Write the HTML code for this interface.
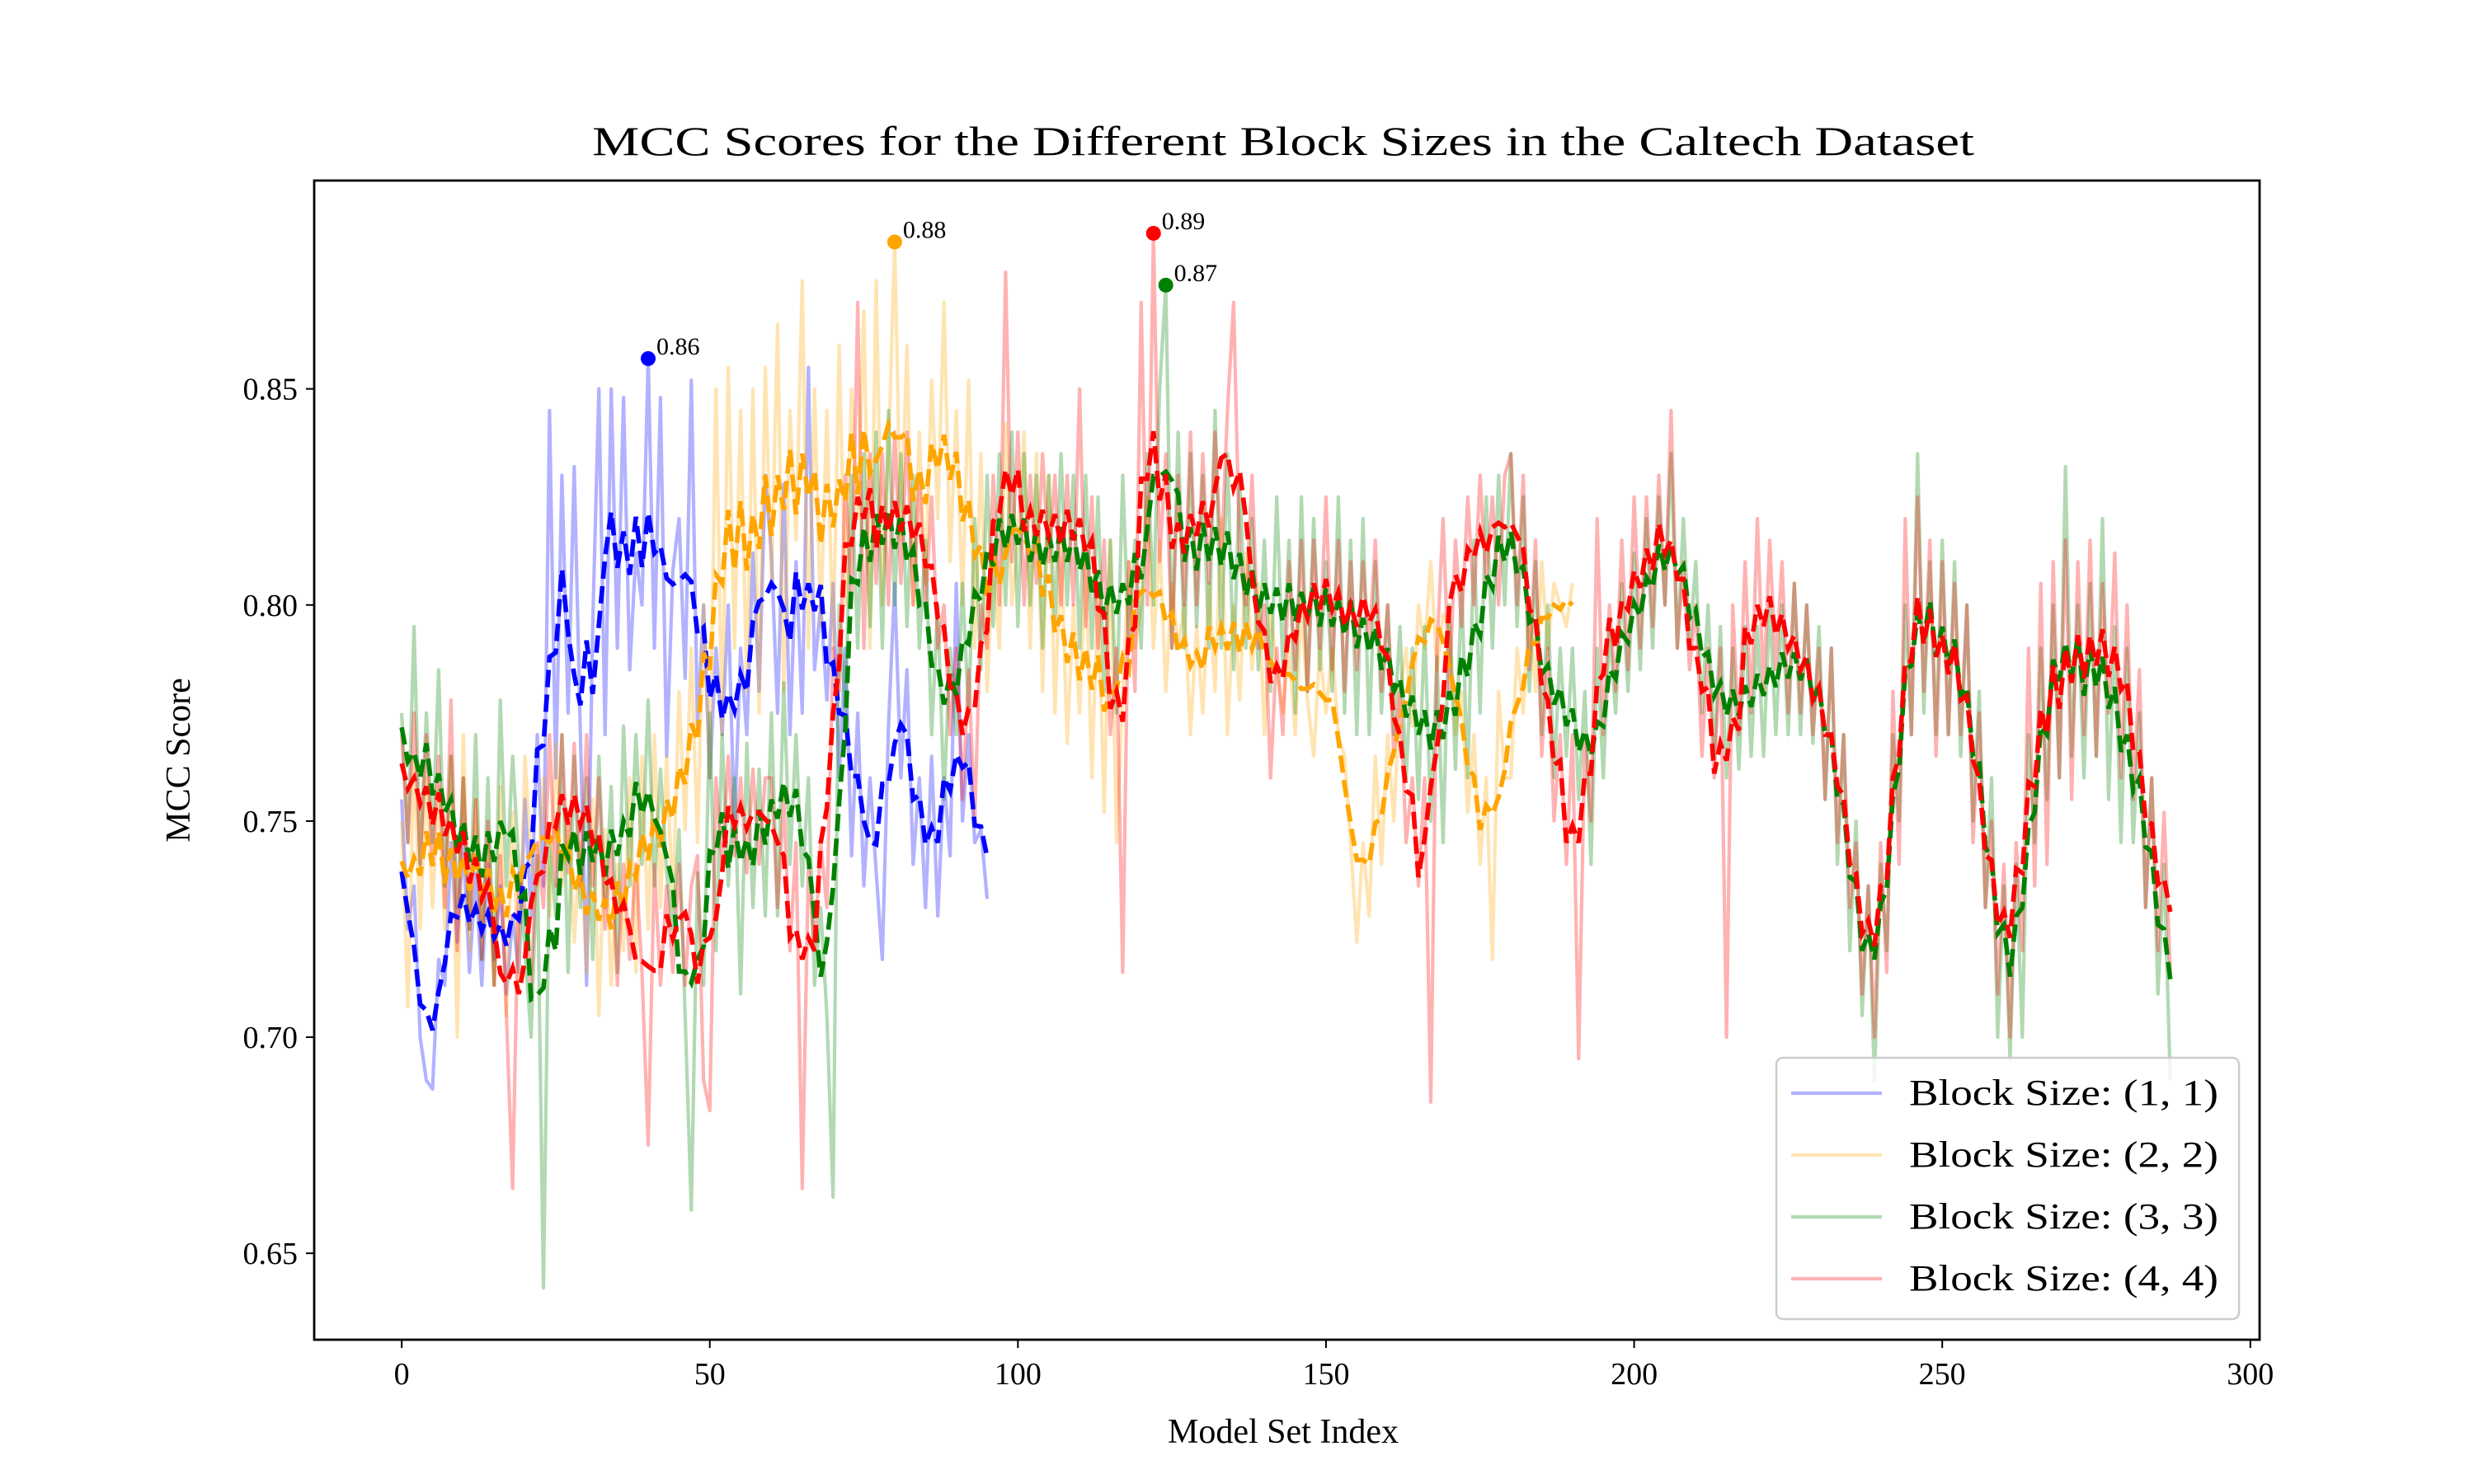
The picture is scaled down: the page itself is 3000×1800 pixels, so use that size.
<!DOCTYPE html>
<html><head><meta charset="utf-8">
<style>
html,body{margin:0;padding:0;background:#fff;}
svg{display:block;font-family:"Liberation Serif","DejaVu Serif",serif;}
</style></head>
<body>
<svg id="chart" width="3000" height="1800" viewBox="0 0 3000 1800" xmlns="http://www.w3.org/2000/svg">
<rect x="0" y="0" width="3000" height="1800" fill="#fff"/>
<text x="1556" y="188" font-size="50" text-anchor="middle" textLength="1676" lengthAdjust="spacingAndGlyphs">MCC Scores for the Different Block Sizes in the Caltech Dataset</text>
<g id="plot"></g>
<text x="1556" y="1750" font-size="42" text-anchor="middle">Model Set Index</text>
<text x="0" y="0" font-size="42" text-anchor="middle" transform="translate(230,922) rotate(-90)">MCC Score</text>
</svg>
<script>
const blue = [755,725,735,700,690,688,718,712,745,722,745,715,738,712,740,718,735,710,728,715,755,728,770,735,845,760,830,775,832,770,712,795,850,770,850,790,848,785,812,800,857,790,848,765,808,820,783,852,772,800,760,790,770,800,748,790,770,812,780,830,812,775,828,770,810,775,855,785,800,778,805,760,790,742,775,735,760,738,718,772,805,760,785,740,760,730,765,728,760,742,805,750,770,745,748,732];
const orange = [750,707,765,725,760,730,758,725,765,700,770,720,755,725,745,712,758,705,752,712,765,740,735,760,728,768,735,752,722,745,715,755,705,748,712,740,720,760,715,765,725,770,730,765,730,780,748,790,745,800,760,850,770,855,790,845,780,850,775,855,805,865,780,845,815,875,790,850,795,845,790,860,800,850,820,868,790,875,800,835,884,815,860,800,840,805,852,820,870,810,845,800,852,790,835,780,812,790,842,800,815,840,790,835,780,830,775,815,768,800,775,810,760,805,752,815,745,780,810,790,800,825,790,815,780,805,790,800,770,795,775,805,780,820,770,800,778,812,785,805,770,800,785,775,790,770,800,778,765,790,775,790,770,765,745,722,745,728,765,740,770,750,780,790,772,800,790,810,785,798,795,770,780,752,770,740,760,718,780,760,760,790,775,800,780,810,790,805,800,795,805];
const green = [775,745,795,740,775,745,785,735,765,730,760,725,770,718,760,712,778,735,765,740,720,700,742,642,745,728,770,715,765,730,760,718,765,730,758,715,772,735,770,740,778,735,762,738,725,748,705,660,738,712,775,720,770,735,760,710,768,730,762,728,775,728,782,740,770,735,760,712,730,705,663,800,775,830,790,835,795,840,790,845,800,835,795,830,790,815,770,800,755,790,770,805,775,820,785,830,795,835,800,840,795,835,800,830,790,830,795,835,800,830,790,830,790,825,780,815,775,830,790,815,790,835,800,850,874,790,840,790,835,795,830,790,845,790,835,785,830,790,820,785,815,780,825,785,815,775,825,780,820,785,810,780,825,775,815,770,820,770,810,775,800,770,795,760,790,755,795,750,788,745,800,762,805,760,815,775,825,790,830,800,835,795,825,780,810,770,800,760,790,765,790,755,780,740,790,760,795,775,805,780,812,785,820,790,825,800,835,790,820,790,810,775,800,765,795,760,790,762,795,765,795,765,800,770,800,770,805,770,800,768,795,755,790,740,770,720,750,705,735,690,740,720,770,750,800,770,835,775,810,770,815,770,810,765,800,750,780,730,760,700,735,695,740,700,770,745,790,755,800,760,832,765,800,760,805,765,820,755,795,745,790,745,775,730,760,710,740,690];
const red = [770,745,775,740,770,740,765,730,778,720,760,725,755,718,750,712,742,705,665,738,730,712,745,730,770,735,770,738,768,735,770,735,760,725,745,712,740,718,740,715,675,740,712,735,715,740,712,735,742,690,683,760,740,765,742,760,738,762,740,760,760,730,755,720,745,665,740,720,745,730,790,780,830,800,870,790,835,805,835,800,840,805,840,800,830,800,825,790,800,770,790,755,785,750,800,790,830,800,877,810,840,800,830,805,835,810,830,800,830,800,850,795,825,790,815,770,790,715,810,780,870,800,886,810,835,790,830,800,840,800,835,805,840,810,845,870,810,800,830,790,800,760,790,770,810,785,815,780,815,790,825,785,815,780,810,785,810,790,815,780,800,765,780,745,760,735,760,685,790,820,780,815,795,825,800,830,805,825,800,830,835,800,830,785,815,765,790,750,770,740,770,695,770,750,820,770,800,780,815,785,825,790,825,795,830,800,845,790,810,785,800,765,790,760,790,700,800,770,810,775,820,780,815,785,810,775,805,775,800,770,790,755,790,745,770,730,745,710,735,700,745,715,780,740,820,770,825,780,815,765,810,770,805,770,800,745,775,730,750,710,740,700,745,720,790,735,805,740,810,760,815,755,810,770,815,765,805,775,812,760,800,755,785,730,760,720,752,715];
const seriesNames = ["Block Size: (1, 1)","Block Size: (2, 2)","Block Size: (3, 3)","Block Size: (4, 4)"];
const seriesColors = ["#0000ff","#ffa500","#008000","#ff0000"];
const xTicks = [0,50,100,150,200,250,300];
const yTicks = [0.65,0.70,0.75,0.80,0.85];

const NS = "http://www.w3.org/2000/svg";
const L = 381, R = 2740, T = 219, B = 1625;
const X0 = -14.2, X1 = 301.5, Y0 = 0.630, Y1 = 0.8982;
function sx(i){ return L + (i - X0) / (X1 - X0) * (R - L); }
function sy(v){ return B - (v - Y0) / (Y1 - Y0) * (B - T); }
function mk(tag, attrs, parent){
  const e = document.createElementNS(NS, tag);
  for (const k in attrs) e.setAttribute(k, attrs[k]);
  parent.appendChild(e);
  return e;
}
const plot = document.getElementById("plot");
const defs = mk("defs", {}, plot);
const cp = mk("clipPath", {id:"clip"}, defs);
mk("rect", {x:L, y:T, width:R-L, height:B-T}, cp);
const lines = mk("g", {"clip-path":"url(#clip)"}, plot);



function rolling(arr){
  const out = [];
  for (let i = 0; i < arr.length; i++){
    let s = 0, n = 0;
    for (let j = i - 2; j <= i + 2; j++){ if (j >= 0 && j < arr.length){ s += arr[j]; n++; } }
    out.push(s / n);
  }
  return out;
}
const all = [blue, orange, green, red];
const keys = ["block-1x1","block-2x2","block-3x3","block-4x4"];
all.forEach((arr, k) => {
  const d = arr.map((v, i) => (i ? "L" : "M") + sx(i).toFixed(1) + "," + sy(v / 1000).toFixed(1)).join(" ");
  const p = mk("path", {d: d, fill:"none", stroke:seriesColors[k], "stroke-opacity":0.3, "stroke-width":4.2, "stroke-linejoin":"round"}, lines);
  
  
});
all.forEach((arr, k) => {
  const ma = rolling(arr);
  const d = ma.map((v, i) => (i ? "L" : "M") + sx(i).toFixed(1) + "," + sy(v / 1000).toFixed(1)).join(" ");
  const p = mk("path", {d: d, fill:"none", stroke:seriesColors[k], "stroke-width":5.6, "stroke-dasharray":"21,9"}, lines);
  
  
});
all.forEach((arr, k) => {
  let mi = 0; arr.forEach((v, i) => { if (v > arr[mi]) mi = i; });
  const c = mk("circle", {cx:sx(mi), cy:sy(arr[mi]/1000), r:9, fill:seriesColors[k]}, plot);
  
  
  const t = mk("text", {x:sx(mi)+10, y:sy(arr[mi]/1000)-5, "font-size":30}, plot);
  t.textContent = (arr[mi]/1000).toFixed(2);
  
  
});
// frame
const fr = mk("rect", {x:L, y:T, width:R-L, height:B-T, fill:"none", stroke:"#000", "stroke-width":2.8}, plot);


xTicks.forEach(t => {
  const g = mk("g", {}, plot);
  
  
  mk("line", {x1:sx(t), x2:sx(t), y1:B, y2:B+10, stroke:"#000", "stroke-width":2}, g);
  const tx = mk("text", {x:sx(t), y:B+54, "font-size":38, "text-anchor":"middle"}, g);
  tx.textContent = String(t);
});
yTicks.forEach(t => {
  const g = mk("g", {}, plot);
  
  
  mk("line", {x1:L-10, x2:L, y1:sy(t), y2:sy(t), stroke:"#000", "stroke-width":2}, g);
  const tx = mk("text", {x:L-20, y:sy(t)+13, "font-size":38, "text-anchor":"end"}, g);
  tx.textContent = t.toFixed(2);
});
// legend
const lg = mk("g", {}, plot);


mk("rect", {x:2154, y:1283, width:561, height:317, rx:8, fill:"#fff", "fill-opacity":0.8, stroke:"#cccccc", "stroke-width":2.5}, lg);
seriesNames.forEach((n, k) => {
  const y = 1326 + k * 75;
  const e = mk("g", {}, lg);
  
  
  mk("line", {x1:2172, x2:2282, y1:y, y2:y, stroke:seriesColors[k], "stroke-opacity":0.3, "stroke-width":4.2}, e);
  const t = mk("text", {x:2315, y:y+14, "font-size":44, textLength:375, lengthAdjust:"spacingAndGlyphs"}, e);
  t.textContent = n;
});
</script>
</body></html>
